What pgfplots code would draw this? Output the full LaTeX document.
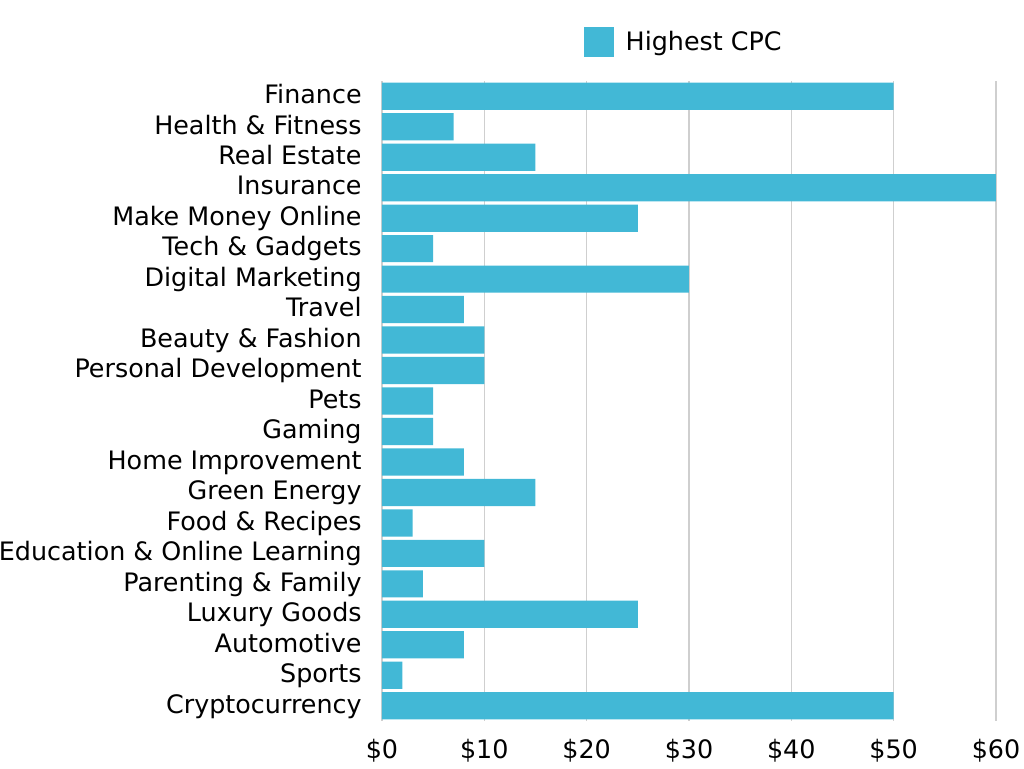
\documentclass[border=0pt]{standalone}
\usepackage{pgfplots}
\pgfplotsset{compat=1.18}
\usepackage{fontspec}
\setmainfont{DejaVu Sans}
\definecolor{barblue}{HTML}{42B8D6}
\definecolor{gridgray}{HTML}{CFCFCF}
\begin{document}
\begin{tikzpicture}
\useasboundingbox (0,0) rectangle (512pt,384pt);
\begin{axis}[
  at={(191pt,23.5pt)}, anchor=south west,
  scale only axis, width=307pt, height=320pt,
  xbar, bar width=13.6pt,
  xmin=0, xmax=60, ymin=-0.5, ymax=20.5,
  y dir=reverse,
  axis line style={draw=none},
  xmajorgrids, grid style={gridgray, line width=0.8pt},
  xtick={0,10,20,30,40,50,60},
  xticklabel={\$\pgfmathprintnumber{\tick}},
  /pgf/number format/assume math mode=true,
  major tick length=0pt,
  ytick={0,...,20},
  yticklabels={Finance,Health \& Fitness,Real Estate,Insurance,Make Money Online,Tech \& Gadgets,Digital Marketing,Travel,Beauty \& Fashion,Personal Development,Pets,Gaming,Home Improvement,Green Energy,Food \& Recipes,Education \& Online Learning,Parenting \& Family,Luxury Goods,Automotive,Sports,Cryptocurrency},
  yticklabel style={font=\fontsize{12.7pt}{14pt}\selectfont, anchor=east, inner sep=0pt, text height=0.73em, text depth=0pt, xshift=-10pt},
  xticklabel style={font=\fontsize{12.7pt}{14pt}\selectfont, anchor=center, inner sep=0pt, text height=0.73em, text depth=0pt, yshift=-15pt},
  legend style={at={(0.493,1.061)}, anchor=center, draw=none, fill=none, font=\fontsize{12.7pt}{14pt}\selectfont},
  legend image code/.code={\fill[barblue] (0pt,-7.5pt) rectangle (15pt,7.5pt);},
  legend cell align=left,
]
\addplot[fill=barblue, draw=none] coordinates {
(50,0) (7,1) (15,2) (60,3) (25,4) (5,5) (30,6) (8,7) (10,8) (10,9) (5,10) (5,11) (8,12) (15,13) (3,14) (10,15) (4,16) (25,17) (8,18) (2,19) (50,20)
};
\addlegendentry{\hspace{4pt}Highest CPC}
\end{axis}
\end{tikzpicture}
\end{document}
